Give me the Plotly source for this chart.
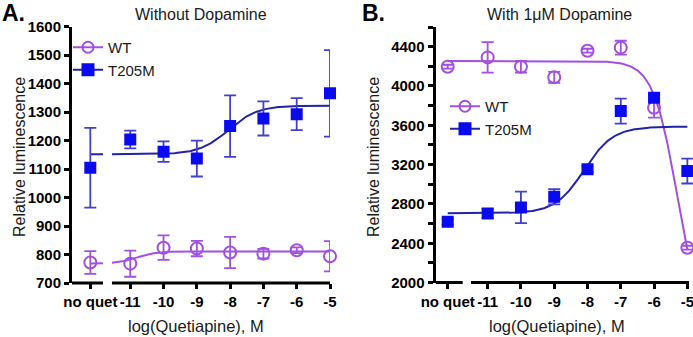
import numpy as np
import plotly.graph_objects as go

# ---------------- data ----------------
x_labels = ['no quet', '-11', '-10', '-9', '-8', '-7', '-6', '-5']
x_pos = [-12.2, -11, -10, -9, -8, -7, -6, -5]

# Panel A: without dopamine
a_wt = [772, 768, 824, 821, 807, 803, 815, 794]
a_wt_err = [40, 46, 43, 27, 55, 17, 10, 53]
a_mut = [1105, 1204, 1161, 1137, 1251, 1278, 1293, 1366]
a_mut_err = [140, 31, 36, 63, 108, 60, 56, 152]

# Panel B: with 1 uM dopamine
b_wt = [4196, 4291, 4196, 4088, 4359, 4390, 3779, 2355]
b_wt_err = [20, 155, 60, 55, 20, 70, 100, 20]
b_mut = [2619, 2704, 2765, 2873, 3152, 3745, 3881, 3135]
b_mut_err = [30, 45, 160, 78, 30, 127, 30, 127]

# sigmoidal fit parameters: bottom, top, logEC50, hill
fit_a_wt = (768, 811, -10.8, 1.5)
fit_a_mut = (1152, 1323, -8.05, 1.0)
fit_b_wt = (1500, 4255, -5.3, -1.2)
fit_b_mut = (2705, 3586, -8.1, 1.0)

# ---------------- style ----------------
PURPLE = '#A24FE3'
BLUE = '#0A0AF0'
BLUE_LINE = '#2222A8'
BLUE_ERR = '#4040D0'
FONT = 'Liberation Sans, Arial, sans-serif'
W, H = 693, 337

# axis layout (x-range, break) per panel
A_RANGE = [-12.75, -5]
A_BREAK = (-11.82, -11.55)
B_RANGE = [-12.567, -4.83]
B_BREAK = (-11.75, -11.5)
B_END = -4.95


def sigmoid(x, p):
    bottom, top, logec, hill = p
    return bottom + (top - bottom) / (1 + 10 ** ((logec - x) * hill))


def px_x(p):
    return p / W


def px_y(p):
    return 1 - p / H


fig = go.Figure()

# ---- fit curves panel A (broken at axis break) ----
for p, col in [(fit_a_wt, PURPLE), (fit_a_mut, BLUE_LINE)]:
    xs1 = np.linspace(x_pos[0], A_BREAK[0], 5)
    xs2 = np.linspace(A_BREAK[1], x_pos[-1], 200)
    xs = np.concatenate([xs1, [np.nan], xs2])
    ys = sigmoid(xs, p)
    fig.add_trace(go.Scatter(x=xs, y=ys, mode='lines', line=dict(color=col, width=2),
                             xaxis='x', yaxis='y', showlegend=False, hoverinfo='skip',
                             connectgaps=False))

# ---- fit curves panel B (continuous) ----
for p, col in [(fit_b_wt, PURPLE), (fit_b_mut, BLUE_LINE)]:
    xs = np.linspace(x_pos[0], x_pos[-1], 300)
    ys = sigmoid(xs, p)
    fig.add_trace(go.Scatter(x=xs, y=ys, mode='lines', line=dict(color=col, width=2),
                             xaxis='x2', yaxis='y2', showlegend=False, hoverinfo='skip'))

# ---- data points ----
def add_points(y, err, xa, ya, sym, col, errcol, size):
    fig.add_trace(go.Scatter(
        x=x_pos, y=y, mode='markers', xaxis=xa, yaxis=ya, showlegend=False,
        cliponaxis=False,
        marker=dict(symbol=sym, size=size, color=col,
                    line=dict(color=col, width=2)),
        error_y=dict(type='data', array=err, color=errcol, thickness=1.8, width=6)))

add_points(a_wt, a_wt_err, 'x', 'y', 'circle-open', PURPLE, PURPLE, 12)
add_points(a_mut, a_mut_err, 'x', 'y', 'square', BLUE, BLUE_ERR, 10)
add_points(b_wt, b_wt_err, 'x2', 'y2', 'circle-open', PURPLE, PURPLE, 12)
add_points(b_mut, b_mut_err, 'x2', 'y2', 'square', BLUE, BLUE_ERR, 10)

# ---- legend entries ----
for name, sym, col, lcol, xa, ya, lg in [
        ('WT', 'circle-open', PURPLE, PURPLE, 'x', 'y', 'legend'),
        ('T205M', 'square', BLUE, BLUE_LINE, 'x', 'y', 'legend'),
        ('WT', 'circle-open', PURPLE, PURPLE, 'x2', 'y2', 'legend2'),
        ('T205M', 'square', BLUE, BLUE_LINE, 'x2', 'y2', 'legend2')]:
    fig.add_trace(go.Scatter(x=[None], y=[None], mode='lines+markers', name=name,
                             xaxis=xa, yaxis=ya, legend=lg,
                             line=dict(color=lcol, width=2),
                             marker=dict(symbol=sym, size=11, color=col,
                                         line=dict(color=col, width=2))))

tickfont = dict(family=FONT, size=15, color='black', weight='bold')
axis_common = dict(showgrid=False, zeroline=False, ticks='outside', ticklen=5,
                   tickwidth=2.5, tickcolor='black', tickfont=tickfont, tickangle=0,
                   automargin=False, ticklabeloverflow='allow')

fig.update_layout(
    width=W, height=H, margin=dict(l=0, r=0, t=0, b=0, pad=0, autoexpand=False),
    paper_bgcolor='white', plot_bgcolor='white',
    font=dict(family=FONT, color='#1a1a1a'),
    xaxis=dict(domain=[px_x(72), px_x(330)], range=A_RANGE, showline=False,
               tickvals=x_pos, ticktext=x_labels, anchor='y', **axis_common),
    yaxis=dict(domain=[px_y(283), px_y(26.7)], range=[700, 1600], showline=True,
               linewidth=3, linecolor='black', tickvals=list(range(700, 1601, 100)),
               anchor='x', **axis_common),
    xaxis2=dict(domain=[px_x(435.5), 1.0], range=B_RANGE, showline=False,
                tickvals=x_pos, ticktext=x_labels, anchor='y2', **axis_common),
    yaxis2=dict(domain=[px_y(282.6), px_y(27)], range=[2000, 4600], showline=True,
                linewidth=3, linecolor='black', tickvals=list(range(2000, 4601, 200)),
                ticktext=[str(v) if v % 400 == 0 and v < 4600 else '' for v in range(2000, 4601, 200)],
                anchor='x2', **axis_common),
    legend=dict(x=px_x(68), y=px_y(31), xanchor='left', yanchor='top',
                font=dict(family=FONT, size=15, color='#1a1a1a'), itemwidth=30,
                bgcolor='rgba(0,0,0,0)', tracegroupgap=0),
    legend2=dict(x=px_x(445), y=px_y(90), xanchor='left', yanchor='top',
                 font=dict(family=FONT, size=15, color='#1a1a1a'), itemwidth=30,
                 bgcolor='rgba(0,0,0,0)', tracegroupgap=0),
    showlegend=True,
)

# broken x-axis lines
shapes = []
for xr, ya, brk, end in [('x', 'y domain', A_BREAK, x_pos[-1]), ('x2', 'y2 domain', B_BREAK, B_END)]:
    rng = A_RANGE if xr == 'x' else B_RANGE
    shapes.append(dict(type='line', xref=xr, yref=ya, x0=rng[0], x1=brk[0], y0=0, y1=0,
                       line=dict(color='black', width=3)))
    shapes.append(dict(type='line', xref=xr, yref=ya, x0=brk[1], x1=end, y0=0, y1=0,
                       line=dict(color='black', width=3)))
fig.update_layout(shapes=shapes)

ann = []
def text(t, x, y, size, bold=False, angle=0, xanchor='center'):
    ann.append(dict(text=t, x=px_x(x), y=px_y(y), xref='paper', yref='paper',
                    showarrow=False, xanchor=xanchor, yanchor='middle', textangle=angle,
                    font=dict(family=FONT, size=size, color='black' if bold else '#1a1a1a',
                              weight='bold' if bold else 'normal')))

text('A.', 0, 13, 23, bold=True, xanchor='left')
text('B.', 360, 13, 23, bold=True, xanchor='left')
text('Without Dopamine', 200.5, 15, 16)
text('With 1\u03bcM Dopamine', 559, 15, 16)
text('Relative luminescence', 19, 157, 16, angle=-90)
text('Relative luminescence', 373, 157, 16, angle=-90)
text('log(Quetiapine), M', 196, 325.5, 16.5)
text('log(Quetiapine), M', 557, 325.5, 16.5)
fig.update_layout(annotations=ann)

fig.write_html('out.html', config={'displayModeBar': False},
               post_script="document.body.style.margin='0px';document.body.style.overflow='hidden';")
